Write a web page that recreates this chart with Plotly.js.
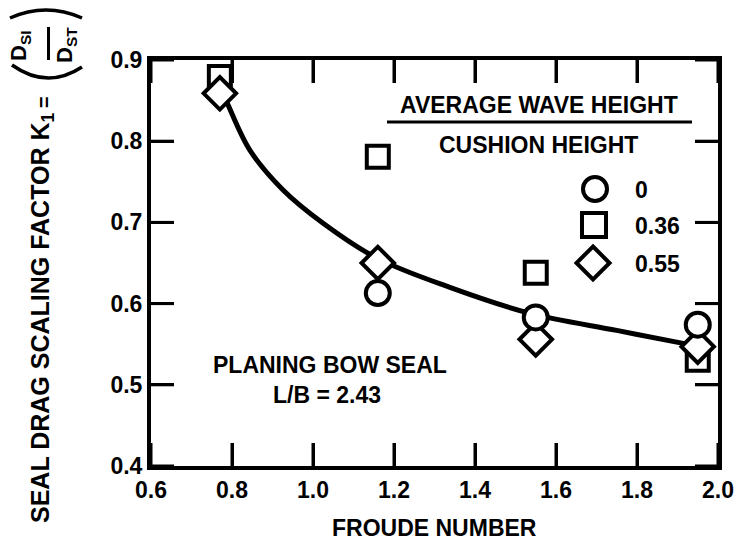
<!DOCTYPE html>
<html>
<head>
<meta charset="utf-8">
<script src="https://cdn.plot.ly/plotly-3.0.1.min.js"></script>
<style>html,body{margin:0;padding:0;background:#fff;}#chart{width:738px;height:544px;}</style>
</head>
<body>
<div id="chart"></div>
<script>
// ---- data ----
const xTickVals = [0.6, 0.8, 1.0, 1.2, 1.4, 1.6, 1.8, 2.0];
const xTickText = ['0.6', '0.8', '1.0', '1.2', '1.4', '1.6', '1.8', '2.0'];
const yTickVals = [0.4, 0.5, 0.6, 0.7, 0.8, 0.9];
const yTickText = ['0.4', '0.5', '0.6', '0.7', '0.8', '0.9'];

const circleX = [1.16, 1.55, 1.95];
const circleY = [0.613, 0.583, 0.574];
const squareX = [0.77, 1.16, 1.55, 1.95];
const squareY = [0.879, 0.781, 0.638, 0.531];
const diamondX = [0.77, 1.16, 1.55, 1.95];
const diamondY = [0.859, 0.650, 0.556, 0.547];

const curveX = [0.775, 0.79, 0.844, 0.926, 1.025, 1.158, 1.338, 1.536, 1.75, 1.914, 1.948];
const curveY = [0.862, 0.845, 0.789, 0.740, 0.699, 0.656, 0.620, 0.588, 0.567, 0.551, 0.548];

const legendLabels = ['0', '0.36', '0.55'];
const legendHeader1 = 'AVERAGE WAVE HEIGHT';
const legendHeader2 = 'CUSHION HEIGHT';
const noteLine1 = 'PLANING BOW SEAL';
const noteLine2 = 'L/B = 2.43';
const xTitle = 'FROUDE NUMBER';
const yTitle = 'SEAL DRAG SCALING FACTOR K<sub>1</sub>';

// ---- layout geometry ----
const W = 738, H = 544, ML = 151, MR = 20, MT = 60, MB = 78;
const PW = W - ML - MR, PH = H - MT - MB;
const XR = [0.6, 2.0], YR = [0.4, 0.9];
const TICKLEN = 23;
const px = x => (x - ML) / PW;
const py = y => (H - MB - y) / PH;

const FONT = 'Liberation Sans, Arial, Helvetica, sans-serif';
const tf = (size) => ({family: FONT, size: size, color: '#000'});
const B = t => '<b>' + t + '</b>';

const mk = (sym, size) => ({symbol: sym, size: size, color: '#fff', line: {color: '#000', width: 4}});

// inside tick marks on all four sides, as line segments in axis units
const dyTick = TICKLEN / PH * (YR[1] - YR[0]);
const dxTick = TICKLEN / PW * (XR[1] - XR[0]);
const tickX = [], tickY = [];
xTickVals.forEach(v => {
  tickX.push(v, v, null, v, v, null);
  tickY.push(YR[0], YR[0] + dyTick, null, YR[1], YR[1] - dyTick, null);
});
yTickVals.forEach(v => {
  tickX.push(XR[0], XR[0] + dxTick, null, XR[1], XR[1] - dxTick, null);
  tickY.push(v, v, null, v, v, null);
});

const traces = [
  {x: tickX, y: tickY, mode: 'lines', type: 'scatter', line: {color: '#000', width: 3}},
  {x: curveX, y: curveY, mode: 'lines', type: 'scatter', line: {color: '#000', width: 5, shape: 'spline'}},
  {x: squareX, y: squareY, mode: 'markers', type: 'scatter', marker: mk('square', 22)},
  {x: diamondX, y: diamondY, mode: 'markers', type: 'scatter', marker: mk('diamond', 25)},
  {x: circleX, y: circleY, mode: 'markers', type: 'scatter', marker: mk('circle', 24)}
];

const ann = (xp, yp, text, size, extra) => Object.assign({
  xref: 'paper', yref: 'paper', x: px(xp), y: py(yp), text: B(text), showarrow: false,
  xanchor: 'center', yanchor: 'middle', font: tf(size)
}, extra || {});

const annotations = [
  ann(539, 105, legendHeader1, 23),
  ann(538, 145, legendHeader2, 23),
  ann(633, 190, legendLabels[0], 23, {xanchor: 'left'}),
  ann(633, 226, legendLabels[1], 23, {xanchor: 'left'}),
  ann(633, 264, legendLabels[2], 23, {xanchor: 'left'}),
  ann(330, 365, noteLine1, 23),
  ann(327, 395, noteLine2, 23),
  ann(434, 528, xTitle, 23),
  ann(42, 318, yTitle, 25, {textangle: -90}),
  ann(44, 102, '=', 20, {textangle: -90}),
  ann(20, 46, 'D<sub>SI</sub>', 22, {textangle: -90}),
  ann(66, 45, 'D<sub>ST</sub>', 22, {textangle: -90})
];

const line = (x0, y0, x1, y1, w) => ({type: 'line', xref: 'paper', yref: 'paper',
  x0: px(x0), y0: py(y0), x1: px(x1), y1: py(y1), line: {color: '#000', width: w}});
const pathQ = (a, c, b, w) => ({type: 'path', xref: 'paper', yref: 'paper',
  path: `M ${px(a[0])},${py(a[1])} Q ${px(c[0])},${py(c[1])} ${px(b[0])},${py(b[1])}`,
  line: {color: '#000', width: w}});
const sq = (cx, cy, h) => ({type: 'rect', xref: 'paper', yref: 'paper',
  x0: px(cx - h), x1: px(cx + h), y0: py(cy + h), y1: py(cy - h), line: {color: '#000', width: 4}, fillcolor: 'rgba(0,0,0,0)'});
const circ = (cx, cy, r) => ({type: 'circle', xref: 'paper', yref: 'paper',
  x0: px(cx - r), x1: px(cx + r), y0: py(cy + r), y1: py(cy - r), line: {color: '#000', width: 4}});
const dia = (cx, cy, r) => ({type: 'path', xref: 'paper', yref: 'paper',
  path: `M ${px(cx)},${py(cy - r)} L ${px(cx + r)},${py(cy)} L ${px(cx)},${py(cy + r)} L ${px(cx - r)},${py(cy)} Z`,
  line: {color: '#000', width: 4}});

const shapes = [
  line(387, 122, 692, 122, 3),
  circ(595, 189, 12),
  sq(594, 225, 12),
  dia(593, 263, 16.5),
  // y-title fraction
  line(48.5, 27, 48.5, 60, 3),
  pathQ([10, 18], [46, 2], [82, 18], 3.5),
  pathQ([12, 65], [47, 90], [82, 67], 3.5)
];

const layout = {
  width: W, height: H,
  margin: {l: ML, r: MR, t: MT, b: MB},
  showlegend: false,
  xaxis: {range: XR, tickmode: 'array', tickvals: xTickVals, ticktext: xTickText.map(B), tickfont: tf(23),
    showline: true, linewidth: 4, linecolor: '#000', mirror: 'ticks', ticks: 'inside', ticklen: TICKLEN, tickwidth: 3, tickcolor: '#000', showgrid: false},
  yaxis: {range: YR, tickmode: 'array', tickvals: yTickVals, ticktext: yTickText.map(B), tickfont: tf(23),
    showline: true, linewidth: 4, linecolor: '#000', mirror: 'ticks', ticks: 'inside', ticklen: TICKLEN, tickwidth: 3, tickcolor: '#000', showgrid: false}
};

Plotly.newPlot('chart', traces, layout, {displayModeBar: false}).then(() =>
  Plotly.relayout('chart', {annotations: annotations, shapes: shapes})
);
</script>
</body>
</html>
